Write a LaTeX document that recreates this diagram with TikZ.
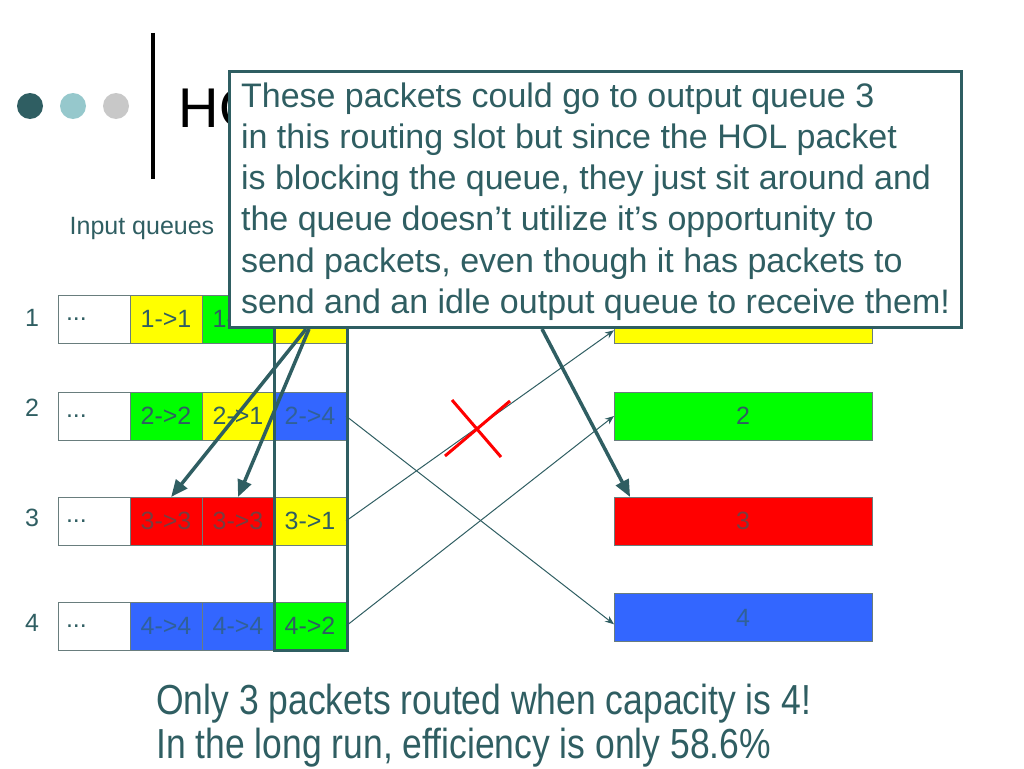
\documentclass[tikz,border=0pt]{standalone}
\usepackage{fontspec}
\setmainfont{Liberation Sans}
\newfontfamily\narrowsans[FakeStretch=0.845]{Liberation Sans}
\usetikzlibrary{positioning,fit,arrows.meta}
\definecolor{slate}{RGB}{47,94,98}
\definecolor{dotlight}{RGB}{150,200,204}
\definecolor{dotgray}{RGB}{200,200,200}
\definecolor{edgegray}{RGB}{105,125,125}
\definecolor{pyellow}{RGB}{255,255,0}
\definecolor{pgreen}{RGB}{0,255,0}
\definecolor{pred}{RGB}{255,0,0}
\definecolor{pblue}{RGB}{51,102,255}
\begin{document}
\begin{tikzpicture}[x=1pt, y=-1pt,
    cell/.style = {draw=edgegray, line width=0.75pt, minimum width=72pt, minimum height=48pt,
                   inner sep=0pt, outer sep=0pt, text=slate, font=\fontsize{25}{30}\selectfont},
    dots/.style = {cell, text width=56pt, align=left},
    faded/.style = {text opacity=0.65},
    outq/.style = {cell, minimum width=258pt},
    route/.style = {draw=slate, line width=1pt, -{Stealth[length=9pt, width=7pt]}},
    pointer/.style = {draw=slate, line width=3.5pt, -{Triangle[length=17pt, width=14pt]}},
    num/.style = {text=slate, inner sep=0pt, font=\fontsize{25}{30}\selectfont}]

    \useasboundingbox (0,0) rectangle (1024,768);

    % slide header
    \fill[slate] (30,106) circle[radius=13pt];
    \fill[dotlight] (73,106) circle[radius=13pt];
    \fill[dotgray] (116,106) circle[radius=13pt];
    \draw[line width=4pt] (153,33) -- (153,179);
    \node[anchor=base west, inner sep=0pt, font=\fontsize{56}{60}\selectfont] (title) at (178.5,127) {HO};

    % input queues
    \node[num] (inlabel) at (142,228) {Input queues};
    \node[num] (n1) at (32,318) {1};
    \node[num] (n2) at (32,408) {2};
    \node[num] (n3) at (32,518) {3};
    \node[num] (n4) at (32,623) {4};

    \node[dots] (in1a) at (94,319) {...};
    \node[cell, fill=pyellow, right=0pt of in1a] (in1b) {1->1};
    \node[cell, fill=pgreen, right=0pt of in1b] (in1c) {1->2};
    \node[cell, fill=pyellow, right=0pt of in1c] (in1d) {};

    \node[dots] (in2a) at (94,416) {...};
    \node[cell, fill=pgreen, right=0pt of in2a] (in2b) {2->2};
    \node[cell, fill=pyellow, right=0pt of in2b] (in2c) {2->1};
    \node[cell, faded, fill=pblue, right=0pt of in2c] (in2d) {2->4};

    \node[dots] (in3a) at (94,521) {...};
    \node[cell, faded, fill=pred, right=0pt of in3a] (in3b) {3->3};
    \node[cell, faded, fill=pred, right=0pt of in3b] (in3c) {3->3};
    \node[cell, fill=pyellow, right=0pt of in3c] (in3d) {3->1};

    \node[dots] (in4a) at (94,626) {...};
    \node[cell, faded, fill=pblue, right=0pt of in4a] (in4b) {4->4};
    \node[cell, faded, fill=pblue, right=0pt of in4b] (in4c) {4->4};
    \node[cell, fill=pgreen, right=0pt of in4c] (in4d) {4->2};

    % head of line column
    \node[fit=(in1d)(in4d), draw=slate, line width=3pt, inner sep=0.5pt, xshift=1pt] (hol) {};

    % output queues
    \node[outq, fill=pyellow] (out1) at (743,319) {};
    \node[outq, fill=pgreen] (out2) at (743,416) {2};
    \node[outq, faded, fill=pred] (out3) at (743,521) {3};
    \node[outq, faded, fill=pblue] (out4) at (743,617.5) {4};

    \draw[route] (in2d.east) -- (out4.183);
    \draw[route] (in3d.east) -- (out1.185);
    \draw[route] (in4d.east) -- (out2.west);

    % blocked transfer
    \draw[pred, line width=3pt] (452,400) -- (501,457);
    \draw[pred, line width=3pt] (445,456) -- (510,401);

    % callout
    \node[draw=slate, line width=3pt, fill=white, minimum width=732pt, minimum height=256pt,
          inner sep=0pt, align=left, text=slate, text depth=3pt,
          font=\fontsize{34}{41.2}\selectfont] (note) at (595.5,199.5)
        {These packets could go to output queue 3\\
         in this routing slot but since the HOL packet\\
         is blocking the queue, they just sit around and\\
         the queue doesn’t utilize it’s opportunity to\\
         send packets, even though it has packets to\\
         send and an idle output queue to receive them!};

    \draw[pointer] ([xshift=78pt]note.south west) -- (in3b.78);
    \draw[pointer] ([xshift=81pt]note.south west) -- (in3c.north);
    \draw[pointer] ([xshift=314pt]note.south west) -- (out3.168);

    % summary
    \node[anchor=north west, inner sep=0pt, align=left, text=slate,
          font=\narrowsans\fontsize{42}{44}\selectfont] (summary) at (156,684)
        {Only 3 packets routed when capacity is 4!\\
         In the long run, efficiency is only 58.6\%};

\end{tikzpicture}
\end{document}
